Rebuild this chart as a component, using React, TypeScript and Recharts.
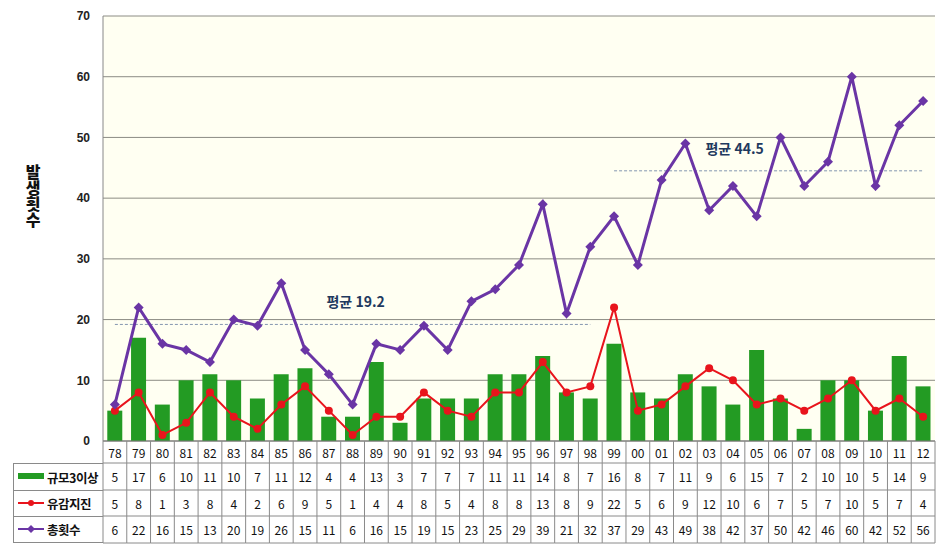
import { ComposedChart, Bar, Line, XAxis, YAxis, CartesianGrid, ReferenceLine } from "recharts";

const years = ["78","79","80","81","82","83","84","85","86","87","88","89","90","91","92","93","94","95","96","97","98","99","00","01","02","03","04","05","06","07","08","09","10","11","12"];
const mag3 = [5,17,6,10,11,10,7,11,12,4,4,13,3,7,7,7,11,11,14,8,7,16,8,7,11,9,6,15,7,2,10,10,5,14,9];
const felt = [5,8,1,3,8,4,2,6,9,5,1,4,4,8,5,4,8,8,13,8,9,22,5,6,9,12,10,6,7,5,7,10,5,7,4];
const total = [6,22,16,15,13,20,19,26,15,11,6,16,15,19,15,23,25,29,39,21,32,37,29,43,49,38,42,37,50,42,46,60,42,52,56];
const yTicks = [0, 10, 20, 30, 40, 50, 60, 70];
const avg1 = 19.2;
const avg2 = 44.5;

const data = years.map((y, i) => ({ year: y, mag3: mag3[i], felt: felt[i], total: total[i] }));

const W = 946;
const H = 555;
const PLOT_L = 103;
const PLOT_R = 935;
const BAND = (PLOT_R - PLOT_L) / years.length;
const GREEN = "#239B23";
const RED = "#E8141C";
const PURPLE = "#6A35A5";
const BORDER = "#8a8a8a";
const FONT = "'Noto Sans CJK KR', 'Liberation Sans', sans-serif";

const Diamond = (props: any) => {
  const { cx, cy } = props;
  if (cx == null || cy == null) return null;
  const s = 5;
  return <polygon points={`${cx},${cy - s} ${cx + s},${cy} ${cx},${cy + s} ${cx - s},${cy}`} fill={PURPLE} />;
};

// year labels plus the data table rows, one column per category
const TableTick = (props: any) => {
  const { x, y, index } = props;
  const l = x - BAND / 2;
  const r = x + BAND / 2;
  const rows = [years[index], mag3[index], felt[index], total[index]];
  const centers = [11, 35.5, 62, 88.5];
  const hLines = [22, 49, 75, 102];
  return (
    <g>
      <line x1={l} x2={l} y1={y} y2={y + 102} stroke={BORDER} />
      {index === years.length - 1 && <line x1={r} x2={r} y1={y} y2={y + 102} stroke={BORDER} />}
      {hLines.map((h) => (
        <line key={h} x1={l} x2={r} y1={y + h} y2={y + h} stroke={BORDER} />
      ))}
      {rows.map((v, k) => (
        <text key={k} x={x} y={y + centers[k]} textAnchor="middle" dominantBaseline="central"
          fontSize={12} fontFamily={FONT} fill="#111">
          {v}
        </text>
      ))}
    </g>
  );
};

const legendRows = [
  { name: "규모3이상", kind: "bar" },
  { name: "유감지진", kind: "red" },
  { name: "총횟수", kind: "purple" },
];

export default function App() {
  return (
    <div style={{ position: "absolute", left: 0, top: 0, width: W, height: H, background: "#fff", fontFamily: FONT }}>
      <ComposedChart width={W} height={H} data={data} margin={{ top: 16, right: W - PLOT_R, left: 0, bottom: 12 }}
        barCategoryGap="18%">
        <CartesianGrid vertical={false} stroke="#8c8c84" fill="#FFFFF2" />
        <XAxis dataKey="year" interval={0} height={102} tickSize={0} tickMargin={0} tick={<TableTick />}
          axisLine={{ stroke: "#777" }} tickLine={false} />
        <YAxis domain={[0, 70]} ticks={yTicks} width={PLOT_L} tickSize={0} tickMargin={13}
          axisLine={{ stroke: "#888" }} tickLine={false}
          tick={{ fontSize: 12, fontWeight: "bold", fill: "#222", fontFamily: "'Liberation Sans', Arial, sans-serif" }} />
        <ReferenceLine segment={[{ x: "78", y: avg1 }, { x: "98", y: avg1 }]} stroke="#8496B0" strokeDasharray="3 2"
          label={{ value: "평균 19.2", position: "top", offset: 17, dx: 3, fill: "#1F3A5F", fontWeight: "bold", fontSize: 14 }} />
        <ReferenceLine segment={[{ x: "99", y: avg2 }, { x: "12", y: avg2 }]} stroke="#8496B0" strokeDasharray="3 2"
          label={{ value: "평균 44.5", position: "top", offset: 17, dx: -34, fill: "#1F3A5F", fontWeight: "bold", fontSize: 14 }} />
        <Bar dataKey="mag3" fill={GREEN} isAnimationActive={false} />
        <Line dataKey="felt" stroke={RED} strokeWidth={2} dot={{ r: 4, fill: RED, stroke: RED, strokeWidth: 0 }}
          isAnimationActive={false} />
        <Line dataKey="total" stroke={PURPLE} strokeWidth={3} dot={<Diamond />} isAnimationActive={false} />
      </ComposedChart>

      <div style={{ position: "absolute", left: 24, top: 164, writingMode: "vertical-rl", fontSize: 16,
        fontWeight: 900, color: "#111", letterSpacing: 0, lineHeight: "18px" }}>
        발생횟수
      </div>

      <div style={{ position: "absolute", left: 13, top: 463, width: PLOT_L - 13, height: 80,
        borderLeft: `1px solid ${BORDER}`, boxSizing: "border-box" }}>
        {legendRows.map((r, i) => (
          <div key={r.name} style={{ position: "absolute", left: 0, top: [0, 27, 53][i], width: PLOT_L - 14,
            height: [27, 26, 27][i], borderTop: `1px solid ${BORDER}`, borderBottom: i === 2 ? `1px solid ${BORDER}` : "none",
            boxSizing: "border-box", display: "flex", alignItems: "center", whiteSpace: "nowrap" }}>
            <svg width={30} height={12} style={{ marginLeft: 3, flexShrink: 0 }}>
              {r.kind === "bar" && <rect x={1} y={2} width={26} height={6} fill={GREEN} />}
              {r.kind === "red" && (
                <g>
                  <line x1={1} x2={27} y1={5} y2={5} stroke={RED} strokeWidth={2} />
                  <circle cx={14} cy={5} r={3} fill={RED} />
                </g>
              )}
              {r.kind === "purple" && (
                <g>
                  <line x1={1} x2={27} y1={5} y2={5} stroke={PURPLE} strokeWidth={2} />
                  <polygon points="14,1 18,5 14,9 10,5" fill={PURPLE} />
                </g>
              )}
            </svg>
            <span style={{ fontSize: 12.5, fontWeight: "bold", color: "#111", letterSpacing: -0.5 }}>{r.name}</span>
          </div>
        ))}
      </div>
    </div>
  );
}
